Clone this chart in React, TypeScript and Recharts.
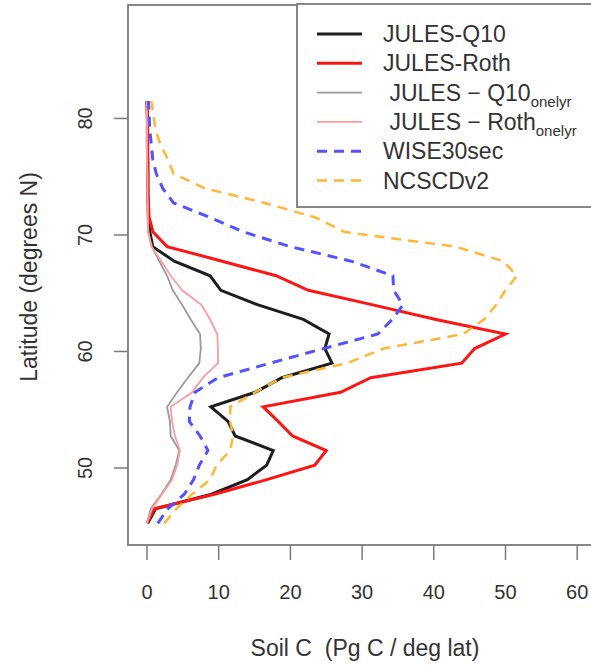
import React from "react";
import { LineChart, Line, XAxis, YAxis, Customized } from "recharts";

// latitude bands (deg N), bottom to top
const LAT = [45.25, 46.5, 47.75, 49, 50.25, 51.5, 52.75, 54, 55.25, 56.5, 57.75, 59, 60.25, 61.5, 62.75, 64, 65.25, 66.5, 67.75, 69, 70.25, 71.5, 72.75, 74, 75.25, 76.5, 77.75, 79, 80.25, 81.5];

// soil C, Pg C / deg lat
const Q10 = [0.1, 1.2, 9.0, 14.0, 16.7, 17.6, 12.3, 11.3, 8.9, 15.1, 18.8, 25.8, 24.8, 25.4, 21.8, 15.5, 10.3, 8.8, 3.8, 0.8, 0.4, 0.2, 0.15, 0.1, 0.1, 0.1, 0.05, 0.05, 0.05, 0.0];
const ROTH = [0.0, 1.0, 9.4, 16.7, 23.4, 25.0, 20.3, 18.3, 16.2, 27.0, 31.2, 43.9, 45.7, 50.0, 40.3, 31.5, 22.5, 18.0, 10.5, 2.8, 0.85, 0.3, 0.2, 0.15, 0.15, 0.1, 0.1, 0.1, 0.05, 0.0];
const Q10_ONELYR = [0.0, 0.5, 2.0, 3.3, 4.0, 4.5, 3.3, 3.2, 2.8, 4.2, 5.7, 7.3, 7.5, 7.4, 6.1, 4.9, 3.6, 2.8, 1.7, 0.7, 0.15, 0.1, 0.05, 0.05, 0.05, 0.0, 0.0, 0.0, 0.0, 0.0];
const ROTH_ONELYR = [0.0, 0.7, 2.1, 3.5, 4.2, 4.6, 3.9, 3.5, 3.3, 6.3, 7.8, 9.9, 9.9, 9.8, 8.8, 7.6, 4.9, 3.3, 2.0, 0.6, 0.2, 0.1, 0.1, 0.05, 0.05, 0.0, 0.0, 0.0, 0.0, 0.0];
const WISE = [1.5, 2.9, 5.2, 6.5, 7.3, 8.5, 7.4, 5.9, 6.0, 6.7, 9.9, 17.2, 24.6, 32.2, 34.2, 35.7, 34.4, 34.3, 28.5, 20.0, 13.5, 8.8, 3.7, 2.2, 1.3, 0.8, 0.6, 0.4, 0.3, 0.2];
const NCSCD = [2.4, 4.1, 6.3, 8.8, 9.7, 11.6, 12.0, 11.6, 11.6, 15.1, 18.8, 27.9, 33.0, 44.1, 47.0, 48.7, 50.0, 51.6, 49.7, 43.0, 27.6, 23.5, 16.4, 8.1, 3.7, 2.9, 1.9, 1.2, 0.9, 0.6];

const X_TICKS = [0, 10, 20, 30, 40, 50, 60];
const Y_TICKS = [50, 60, 70, 80];

const rows = LAT.map((lat, i) => ({
  lat,
  q10: Q10[i],
  roth: ROTH[i],
  q10o: Q10_ONELYR[i],
  rotho: ROTH_ONELYR[i],
  wise: WISE[i],
  ncscd: NCSCD[i],
}));

const FONT = "'Liberation Sans', Arial, Helvetica, sans-serif";
const INK = "#333";
const FRAME = "#7a7a7a";

const SERIES = [
  { key: "q10", label: "JULES-Q10", color: "#1e1e1e", width: 3, dash: undefined, sub: null },
  { key: "roth", label: "JULES-Roth", color: "#ff1414", width: 3, dash: undefined, sub: null },
  { key: "q10o", label: " JULES \u2212 Q10", color: "#9a9a9a", width: 1.8, dash: undefined, sub: "onelyr" },
  { key: "rotho", label: " JULES \u2212 Roth", color: "#ff9c9c", width: 1.8, dash: undefined, sub: "onelyr" },
  { key: "wise", label: "WISE30sec", color: "#5252ff", width: 3, dash: "10 7", sub: null },
  { key: "ncscd", label: "NCSCDv2", color: "#ffb735", width: 2.5, dash: "10 7", sub: null },
];

const YTick = (p: any) => (
  <text
    x={p.x}
    y={p.y}
    transform={`rotate(-90 ${p.x} ${p.y})`}
    textAnchor="middle"
    fontSize={20}
    fontFamily={FONT}
    fill={INK}
  >
    {p.payload.value}
  </text>
);

const Decor = () => (
  <g fontFamily={FONT} fill={INK}>
    {/* plot frame */}
    <rect x={128} y={5} width={480} height={540} fill="none" stroke={FRAME} strokeWidth={1.8} />
    {/* axis titles */}
    <text x={365} y={656} fontSize={23} textAnchor="middle" style={{ whiteSpace: "pre" }}>
      {"Soil C  (Pg C / deg lat)"}
    </text>
    <text x={37} y={277} fontSize={23} textAnchor="middle" transform="rotate(-90 37 277)">
      Latitude (degrees N)
    </text>
    {/* legend */}
    <rect x={297} y={4} width={310} height={203} fill="#fff" stroke={FRAME} strokeWidth={1.8} />
    {SERIES.map((s, i) => {
      const cy = 34 + i * 29.3;
      return (
        <g key={s.key}>
          <line x1={317} x2={362} y1={cy} y2={cy} stroke={s.color} strokeWidth={s.width} strokeDasharray={s.dash} />
          <text x={383} y={cy + 8} fontSize={23} style={{ whiteSpace: "pre" }}>
            {s.label}
            {s.sub && (
              <tspan fontSize={15} dy={6}>
                {s.sub}
              </tspan>
            )}
          </text>
        </g>
      );
    })}
  </g>
);

export default function App() {
  return (
    <div style={{ position: "absolute", left: 0, top: 0, width: 591, height: 665, overflow: "hidden", background: "#fff" }}>
      <LineChart width={600} height={665} data={rows} layout="vertical" margin={{ top: 5, right: 0, bottom: 0, left: 0 }}>
        <XAxis
          type="number"
          domain={[-2.65, 63.18]}
          allowDataOverflow
          ticks={X_TICKS}
          axisLine={false}
          tickLine={{ stroke: FRAME, strokeWidth: 1.5 }}
          tickSize={15}
          tickMargin={25}
          height={120}
          tick={{ fontSize: 20, fill: INK, fontFamily: FONT }}
        />
        <YAxis
          type="number"
          dataKey="lat"
          domain={[43.39, 89.74]}
          allowDataOverflow
          reversed
          ticks={Y_TICKS}
          axisLine={false}
          tickLine={{ stroke: FRAME, strokeWidth: 1.5 }}
          tickSize={14}
          tickMargin={22}
          width={128}
          tick={<YTick />}
        />
        {SERIES.map((s) => (
          <Line
            key={s.key}
            type="linear"
            dataKey={s.key}
            stroke={s.color}
            strokeWidth={s.width}
            strokeDasharray={s.dash}
            dot={false}
            activeDot={false}
            isAnimationActive={false}
          />
        ))}
        <Customized component={Decor} />
      </LineChart>
    </div>
  );
}
